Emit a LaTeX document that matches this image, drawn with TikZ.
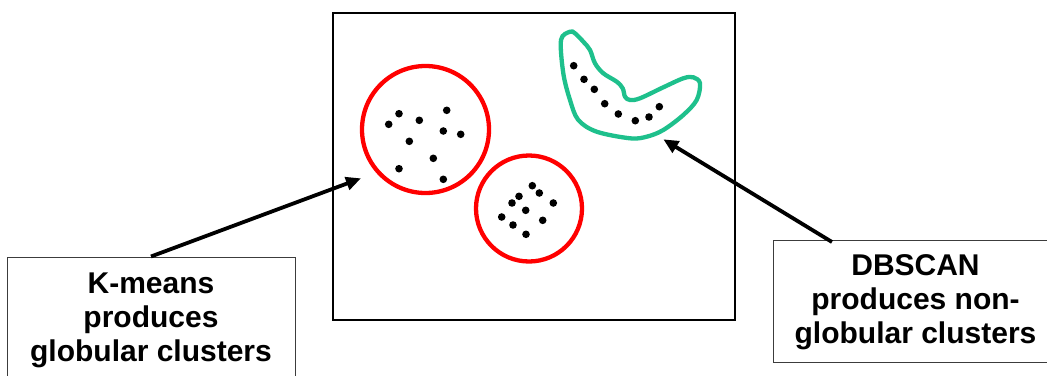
\documentclass[tikz,border=0pt]{standalone}
\usepackage{fontspec}
\setmainfont{Liberation Sans}
\usetikzlibrary{arrows.meta}
\definecolor{dbgreen}{RGB}{30,192,140}
\definecolor{boxgray}{RGB}{60,60,60}
\tikzset{
  frame/.style={draw=black, line width=1.4pt, rectangle, inner sep=0pt},
  labelbox/.style={draw=boxgray, line width=1pt, rectangle, inner sep=0pt},
  kcluster/.style={draw=red, line width=4.3pt, circle, inner sep=0pt},
  dbshape/.style={draw=dbgreen, line width=4.3pt},
  pt/.style={fill=black},
  pointer/.style={line width=3.8pt, -{Triangle[length=15pt,width=13pt]}},
  caption/.style={anchor=base, inner sep=0pt, font=\fontsize{30}{34}\selectfont\bfseries}
}
\begin{document}
\begin{tikzpicture}[x=1pt,y=-1pt]
\useasboundingbox (0,0) rectangle (1047,375);
\fill[white] (0,0) rectangle (1047,375);

% data space
\node[frame, minimum width=402pt, minimum height=307pt] (space) at (534,166.5) {};

% k-means clusters
\node[kcluster, minimum size=127pt] (c1) at (425.5,129.5) {};
\node[kcluster, minimum size=106pt] (c2) at (529,208.5) {};

\foreach \x/\y in {388.7/124.3, 399/113.7, 419.3/120.3, 446.7/110.3, 443.3/131,
                   460.7/134.3, 409.3/141.3, 433.3/158.3, 399/168.7, 443.3/179.3}
  \fill[pt] (\x,\y) circle (3.8);
\foreach \x/\y in {532.3/185.7, 539.3/193, 519/196.3, 512/203, 553.3/203,
                   525.7/210.3, 501.7/217, 542.7/220.3, 513/225, 526/234.3}
  \fill[pt] (\x,\y) circle (3.8);

% density-based cluster
\draw[dbshape] plot[smooth cycle, tension=0.55] coordinates {
  (570,31.7) (561,40) (563.3,73.3) (570,100) (578.3,120) (596.7,131.7)
  (630,138.3) (646.7,136.7) (663.3,130) (683.3,115) (696.7,100) (700,83.3)
  (693.3,77.3) (683.3,78.3) (663.3,87.3) (640,98.3) (630,100) (625,96.7)
  (622.7,88.3) (616.7,81.7) (603.3,73.3) (595,63.3) (590,50) (583.3,41.7)
  (575,33.3)};
\foreach \x/\y in {573.7/65.7, 584/79.3, 594.3/89.3, 604.7/103.7, 618.3/114,
                   635.3/120.7, 649/117, 659.3/106.7}
  \fill[pt] (\x,\y) circle (3.8);

% label boxes
\node[labelbox, minimum width=288pt, minimum height=143pt] (kbox) at (151,328.5) {};
\node[labelbox, minimum width=285pt, minimum height=122pt] (dbox) at (915.5,301) {};

\node[caption] (k1) at (151,293) {K-means};
\node[caption] (k2) at (151,327) {produces};
\node[caption] (k3) at (151,361) {globular clusters};

\node[caption] (d1) at (915.5,275) {DBSCAN};
\node[caption] (d2) at (915.5,309) {produces non-};
\node[caption] (d3) at (915.5,343) {globular clusters};

% pointers
\coordinate (ktip) at (361,178.3);
\coordinate (dtail) at (832,242);
\coordinate (dtip) at (663.3,139.3);
\draw[pointer] (kbox.north) -- (ktip);
\draw[pointer] (dtail) -- (dtip);
\end{tikzpicture}
\end{document}
